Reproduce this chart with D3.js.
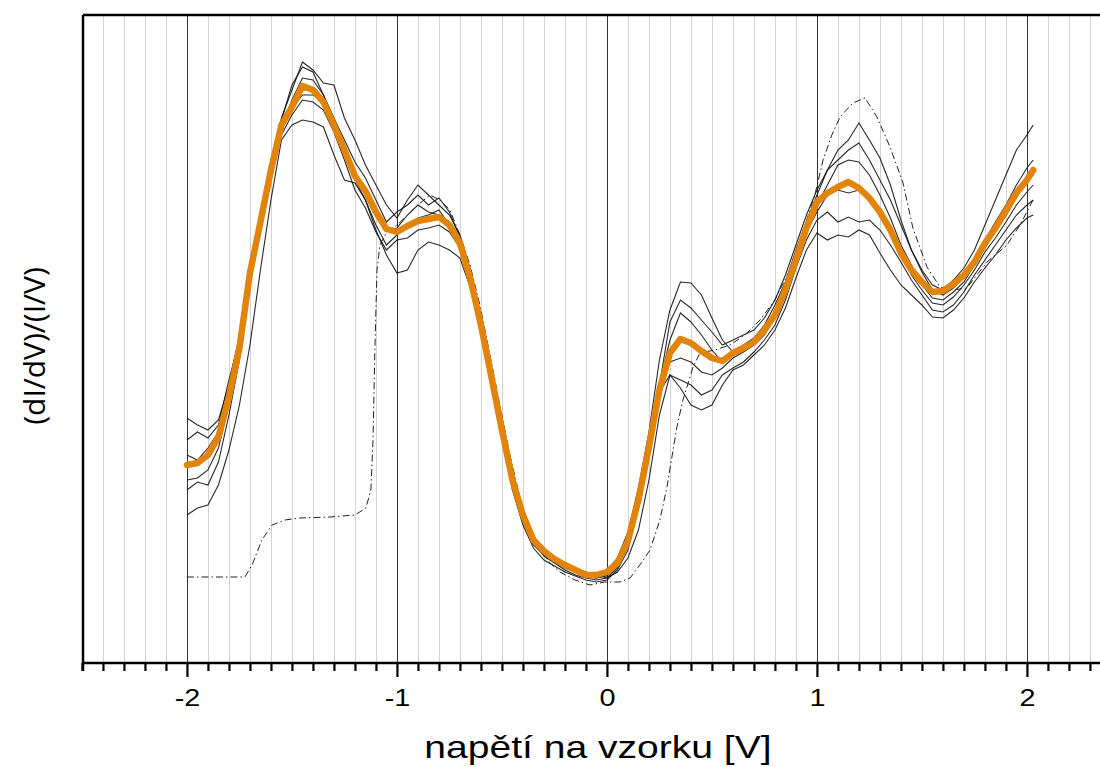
<!DOCTYPE html>
<html><head><meta charset="utf-8">
<script src="https://cdn.jsdelivr.net/npm/d3@7"></script>
<style>html,body{margin:0;padding:0;background:#fff}svg{display:block}</style>
</head><body>
<svg id="chart" width="1100" height="767"></svg>
<script>
// Sample voltage grid (V)
const voltage = [-2,-1.95,-1.9,-1.85,-1.8,-1.75,-1.7,-1.65,-1.6,-1.55,-1.5,-1.45,-1.4,-1.35,-1.3,-1.25,-1.2,-1.15,-1.1,-1.05,-1,-0.95,-0.9,-0.85,-0.8,-0.75,-0.7,-0.65,-0.6,-0.55,-0.5,-0.45,-0.4,-0.35,-0.3,-0.25,-0.2,-0.15,-0.1,-0.05,0,0.05,0.1,0.15,0.2,0.25,0.3,0.35,0.4,0.45,0.5,0.55,0.6,0.65,0.7,0.75,0.8,0.85,0.9,0.95,1,1.05,1.1,1.15,1.2,1.25,1.3,1.35,1.4,1.45,1.5,1.55,1.6,1.65,1.7,1.75,1.8,1.85,1.9,1.95,2,2.03];

// Individual spectra (arbitrary units)
const spectrumA = [245,238,233,243,278,328,383,438,498,545,573,601,593,580,578,545,523,498,478,458,445,463,478,468,458,448,428,393,345,291,238,188,151,125,111,103,97,93,89,87,93,105,131,175,231,303,353,381,380,368,345,323,311,318,325,338,358,381,413,441,468,493,513,523,540,523,505,478,443,413,393,378,373,383,395,413,438,463,488,513,528,538];
const spectrumB = [223,231,225,238,283,323,393,448,503,543,578,596,591,568,545,523,501,485,463,441,451,458,468,458,465,451,425,388,341,288,235,185,149,123,110,101,95,91,86,85,88,98,120,158,211,278,341,363,355,343,331,318,323,328,333,345,363,388,418,448,473,493,503,513,520,503,483,463,438,413,391,373,368,375,385,401,423,441,458,478,495,503];
const spectrumC = [208,203,215,231,271,318,385,438,488,535,563,585,583,568,543,518,488,471,448,433,435,448,458,451,448,441,423,385,338,285,231,180,145,121,107,100,93,88,85,83,85,95,118,161,218,280,323,350,341,328,313,301,308,318,321,333,351,375,405,435,458,478,498,503,501,488,468,445,418,398,378,365,363,371,381,398,415,431,448,468,481,488];
const spectrumD = [183,185,193,215,258,311,388,441,495,541,555,568,568,563,538,513,483,463,438,418,428,438,445,448,453,438,418,381,335,283,230,181,147,122,110,102,96,91,87,85,87,97,123,168,225,278,301,305,301,291,288,295,305,311,318,328,345,370,401,431,451,468,473,470,473,463,451,431,408,388,373,360,358,366,378,393,411,425,441,458,471,478];
const spectrumE = [173,181,178,201,248,303,378,435,483,528,548,563,561,553,531,503,473,455,431,413,423,425,433,435,438,431,415,378,331,278,225,175,141,118,108,103,98,95,91,88,85,91,105,133,183,248,288,283,278,268,273,288,295,301,311,323,338,363,395,423,443,451,441,446,441,443,433,418,401,383,368,353,351,358,371,388,403,418,433,448,458,463];
const spectrumF = [148,155,158,178,213,258,318,393,463,523,538,543,541,536,508,483,480,463,433,408,390,393,413,421,418,413,405,375,328,275,223,173,138,115,103,97,91,87,83,81,83,93,113,158,213,271,288,275,258,253,258,278,293,298,308,318,333,355,385,413,430,423,428,426,433,428,410,393,378,368,358,346,345,353,365,381,395,408,423,435,445,448];

// Averaged spectrum (orange)
const averageSpectrum = [198,200,208,226,266,315,390,441,493,538,556,577,573,561,538,513,487,472,451,434,431,437,442,444,446,438,420,384,338,286,233,183,148,123,112,104,98,93,88,88,91,100,122,163,216,273,310,324,320,312,305,302,310,315,321,333,348,373,403,435,461,470,476,481,475,465,451,433,410,393,381,371,372,379,388,401,420,435,452,470,483,493];

// Dash-dot spectrum (own sampling)
const dashVoltage = [-2.000,-1.724,-1.690,-1.643,-1.595,-1.533,-1.462,-1.319,-1.200,-1.148,-1.124,-1.114,-1.105,-1.095,-1.081,-1.048,-1.000,-0.948,-0.900,-0.843,-0.795,-0.748,-0.700,-0.652,-0.605,-0.557,-0.510,-0.462,-0.414,-0.367,-0.319,-0.271,-0.224,-0.152,-0.081,-0.010,0.062,0.110,0.157,0.205,0.252,0.286,0.333,0.362,0.410,0.443,0.514,0.586,0.657,0.729,0.800,0.871,0.943,0.990,1.029,1.071,1.110,1.171,1.229,1.286,1.348,1.410,1.457,1.524,1.586,1.648,1.714,1.810,1.905,1.967,2.029];
const dashSignal = [86,86,98,123,138,143,145,146,148,155,173,223,313,393,418,431,438,448,458,468,463,453,428,398,358,308,258,208,165,133,113,100,91,83,78,81,81,85,98,113,143,176,236,263,296,310,313,318,328,343,363,393,438,468,503,528,546,560,565,546,516,480,435,396,376,373,375,401,418,438,463];

// Axis ticks
const majorTicks = [-2,-1,0,1,2];
const majorLabels = ["-2","-1","0","1","2"];
const minorTicks = [-2.5,-2.4,-2.3,-2.2,-2.1,-1.9,-1.8,-1.7,-1.6,-1.5,-1.4,-1.3,-1.2,-1.1,-0.9,-0.8,-0.7,-0.6,-0.5,-0.4,-0.3,-0.2,-0.1,0.1,0.2,0.3,0.4,0.5,0.6,0.7,0.8,0.9,1.1,1.2,1.3,1.4,1.5,1.6,1.7,1.8,1.9,2.1,2.2,2.3];
const xTitle = "napětí na vzorku [V]";
const yTitle = "(dI/dV)/(I/V)";

const svg = d3.select("#chart");
const L = 83, R = 1100, T = 15, B = 663;
const x = d3.scaleLinear().domain([-2.495, 2.348]).range([L, R]);
const y = d3.scaleLinear().domain([0, 648]).range([B, T]);

// grid
const grid = svg.append("g");
grid.selectAll("line.minor").data(minorTicks.filter(d => d > -2.45)).join("line")
  .attr("x1", d => Math.round(x(d)) + 0.5).attr("x2", d => Math.round(x(d)) + 0.5)
  .attr("y1", T).attr("y2", B).attr("stroke", "#d2d2d2").attr("stroke-width", 1);
grid.selectAll("line.major").data(majorTicks).join("line")
  .attr("x1", d => Math.round(x(d)) + 0.5).attr("x2", d => Math.round(x(d)) + 0.5)
  .attr("y1", T).attr("y2", B).attr("stroke", "#333").attr("stroke-width", 1);

const line = d3.line().x(d => x(d[0])).y(d => y(d[1]));
const pts = arr => voltage.map((v, i) => [v, arr[i]]).filter(d => d[1] !== undefined);

const spectra = [spectrumA, spectrumB, spectrumC, spectrumD, spectrumE, spectrumF];
svg.append("g").selectAll("path").data(spectra).join("path")
  .attr("d", s => line(pts(s)))
  .attr("fill", "none").attr("stroke", "#111").attr("stroke-width", 1.1).attr("stroke-opacity", 0.9);

svg.append("path")
  .attr("d", line(dashVoltage.map((v, i) => [v, dashSignal[i]])))
  .attr("fill", "none").attr("stroke", "#222").attr("stroke-width", 1)
  .attr("stroke-dasharray", "7,3,1.5,3");

svg.append("path")
  .attr("d", line(pts(averageSpectrum)))
  .attr("fill", "none").attr("stroke", "#e3840a").attr("stroke-width", 6.5)
  .attr("stroke-linejoin", "round").attr("stroke-linecap", "round");

// axes
const xAxisMinor = d3.axisBottom(x).tickValues(minorTicks).tickSize(8).tickFormat("");
const xAxisMajor = d3.axisBottom(x).tickValues(majorTicks).tickSize(14)
  .tickFormat((d, i) => majorLabels[i]);
const gMinor = svg.append("g").attr("transform", `translate(0,${B})`).call(xAxisMinor);
gMinor.select(".domain").remove();
gMinor.selectAll("line").attr("stroke", "#000").attr("stroke-width", 2.2);
const gMajor = svg.append("g").attr("transform", `translate(0,${B})`).call(xAxisMajor);
gMajor.select(".domain").remove();
gMajor.selectAll("line").attr("stroke", "#000").attr("stroke-width", 2.2);
gMajor.selectAll("text").attr("font-family", "Liberation Sans, Arial, sans-serif")
  .attr("font-size", 24).attr("fill", "#000").attr("dy", null).attr("y", 0)
  .attr("transform", "translate(0,43) scale(1.2,1)");

// frame lines
svg.append("line").attr("x1", L).attr("x2", R).attr("y1", B).attr("y2", B).attr("stroke", "#000").attr("stroke-width", 2.5);
svg.append("line").attr("x1", L).attr("x2", R).attr("y1", T).attr("y2", T).attr("stroke", "#000").attr("stroke-width", 2.5);
svg.append("line").attr("x1", L).attr("x2", L).attr("y1", T).attr("y2", B + 8).attr("stroke", "#000").attr("stroke-width", 2.5);

svg.append("text").text(xTitle)
  .attr("transform", `translate(${(x(-2) + x(2)) / 2 - 9},758) scale(1.22,1)`)
  .attr("text-anchor", "middle").attr("font-family", "Liberation Sans, Arial, sans-serif")
  .attr("font-size", 32).attr("fill", "#000");

svg.append("text").text(yTitle)
  .attr("transform", "translate(45,346) rotate(-90)")
  .attr("text-anchor", "middle").attr("font-family", "Open Sans, sans-serif")
  .attr("font-size", 30).attr("fill", "#000");
</script>
</body></html>
